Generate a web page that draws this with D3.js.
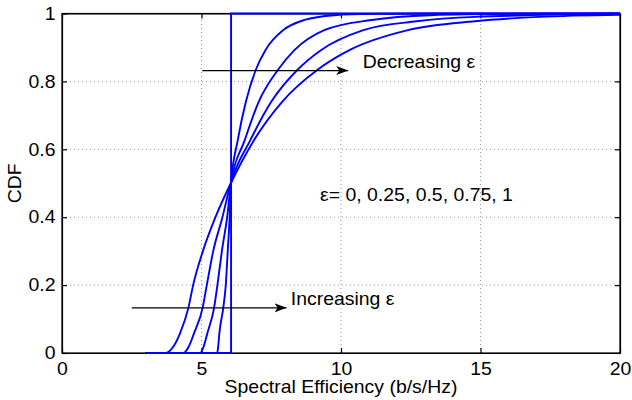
<!DOCTYPE html>
<html>
<head>
<meta charset="utf-8">
<script src="https://cdn.jsdelivr.net/npm/d3@7"></script>
<style>
body { margin: 0; background: #fff; }
text { font-family: "Liberation Sans", Arial, Helvetica, sans-serif; fill: #000; }
</style>
</head>
<body>
<script>
var width = 632, height = 400
var margin = {left: 62, top: 13.5, right: 12, bottom: 47}
var fontSize = 18, stretch = 1.08

// tick values
var xTicks = [0, 5, 10, 15, 20]
var yTicks = [0, 0.2, 0.4, 0.6, 0.8, 1]

// CDF curves, [spectral efficiency, cdf]
var epsilons = [0, 0.25, 0.5, 0.75, 1]
var cdfEps0 = [[3, 0], [6.06, 0], [6.06, 1], [20, 1]]
var cdfEps025 = [[3, 0], [5.56, 0], [5.6, 0.02], [5.64, 0.058], [5.78, 0.133], [5.87, 0.2], [5.94, 0.3], [6.01, 0.4], [6.06, 0.5],
    [6.3, 0.627], [6.59, 0.74], [6.95, 0.835], [7.29, 0.892], [7.93, 0.951], [8.69, 0.981], [9.76, 0.995], [11.05, 0.999], [13, 1], [20, 1]]
var cdfEps05 = [[3, 0], [4.95, 0], [5.08, 0.02], [5.21, 0.058], [5.45, 0.133], [5.57, 0.2], [5.73, 0.3], [5.92, 0.4], [6.06, 0.5],
    [6.55, 0.627], [7.05, 0.74], [7.75, 0.835], [8.33, 0.892], [9.4, 0.951], [11.1, 0.981], [13.2, 0.995], [16, 0.999], [20, 1]]
var cdfEps075 = [[3, 0], [4.34, 0], [4.55, 0.02], [4.73, 0.058], [5.04, 0.133], [5.19, 0.2], [5.42, 0.3], [5.75, 0.4], [6.05, 0.5],
    [6.75, 0.627], [7.5, 0.74], [8.45, 0.835], [9.28, 0.892], [10.8, 0.951], [12.7, 0.977], [14.8, 0.99], [20, 0.999]]
var cdfEps1 = [[3, 0], [3.7, 0], [4.0, 0.02], [4.23, 0.058], [4.53, 0.133], [4.7, 0.2], [5.05, 0.3], [5.5, 0.4], [6.05, 0.5],
    [6.88, 0.627], [7.89, 0.74], [9.17, 0.835], [10.3, 0.892], [12.4, 0.951], [14.8, 0.977], [17.1, 0.99], [20, 0.996]]
var curves = [cdfEps0, cdfEps025, cdfEps05, cdfEps075, cdfEps1]

// annotations (data units)
var arrows = [
    {from: [5.03, 0.832], to: [10.26, 0.832]},
    {from: [2.5, 0.133], to: [8.05, 0.133]}
]
var labels = [
    {x: 10.78, y: 0.839, text: "Decreasing ε"},
    {x: 8.2, y: 0.141, text: "Increasing ε"},
    {x: 9.25, y: 0.449, text: "ε= 0, 0.25, 0.5, 0.75, 1"}
]

var svg = d3.select("body").append("svg")
    .attr("width", width).attr("height", height)

var xScale = d3.scaleLinear().domain([0, 20]).range([margin.left, width - margin.right])
var yScale = d3.scaleLinear().domain([0, 1]).range([height - margin.bottom, margin.top])
var x0 = xScale(0), x1 = xScale(20), y0 = yScale(0), y1 = yScale(1)

// grid
svg.append("g").selectAll("line").data(xTicks.slice(1, -1))
    .enter().append("line")
    .attr("x1", d => xScale(d)).attr("x2", d => xScale(d))
    .attr("y1", y0).attr("y2", y1)
    .attr("stroke", "#999").attr("stroke-width", 1).attr("stroke-dasharray", "1,3")
svg.append("g").selectAll("line").data(yTicks.slice(1, -1))
    .enter().append("line")
    .attr("x1", x0).attr("x2", x1)
    .attr("y1", d => yScale(d)).attr("y2", d => yScale(d))
    .attr("stroke", "#999").attr("stroke-width", 1).attr("stroke-dasharray", "1,3")

// axes, ticks inside on all four sides
var xAxis = d3.axisBottom(xScale).tickValues(xTicks).tickSizeInner(-5).tickSizeOuter(0).tickPadding(9)
var yAxis = d3.axisLeft(yScale).tickValues(yTicks).tickSizeInner(-5).tickSizeOuter(0).tickPadding(6)
    .tickFormat(d3.format("~g"))
var gx = svg.append("g").attr("transform", "translate(0," + y0 + ")").call(xAxis)
var gy = svg.append("g").attr("transform", "translate(" + x0 + ",0)").call(yAxis)
svg.append("g").attr("transform", "translate(0," + y1 + ")")
    .call(d3.axisTop(xScale).tickValues(xTicks).tickSizeInner(-5).tickSizeOuter(0).tickFormat(""))
svg.append("g").attr("transform", "translate(" + x1 + ",0)")
    .call(d3.axisRight(yScale).tickValues(yTicks).tickSizeInner(-5).tickSizeOuter(0).tickFormat(""))
svg.selectAll(".domain, .tick line").attr("stroke", "#000").attr("stroke-width", 1.2)
svg.selectAll(".tick text")
    .attr("font-size", fontSize).attr("font-family", "Liberation Sans, Arial, sans-serif")
    .attr("transform", "scale(" + stretch + ",1)")
svg.append("rect").attr("x", x0).attr("y", y1).attr("width", x1 - x0).attr("height", y0 - y1)
    .attr("fill", "none").attr("stroke", "#000").attr("stroke-width", 1.2)

// axis titles
svg.append("text").attr("transform", "translate(" + (x0 + x1) / 2 + ",393) scale(" + stretch + ",1)")
    .attr("text-anchor", "middle").attr("font-size", fontSize)
    .text("Spectral Efficiency (b/s/Hz)")
svg.append("text").attr("transform", "translate(21," + yScale(0.5) + ") rotate(-90) scale(" + stretch + ",1)")
    .attr("text-anchor", "middle").attr("font-size", fontSize)
    .text("CDF")

// curves
var line = d3.line().x(d => xScale(d[0])).y(d => yScale(d[1])).curve(d3.curveMonotoneX)
var stepLine = d3.line().x(d => xScale(d[0])).y(d => yScale(d[1]))
svg.append("g").selectAll("path").data(curves)
    .enter().append("path")
    .attr("d", (d, i) => epsilons[i] == 0 ? stepLine(d) : line(d))
    .attr("fill", "none").attr("stroke", "#0000ff").attr("stroke-width", 1.9)

// arrows
svg.append("defs").append("marker")
    .attr("id", "head").attr("markerUnits", "userSpaceOnUse")
    .attr("markerWidth", 14).attr("markerHeight", 12)
    .attr("refX", 12).attr("refY", 6).attr("orient", "auto")
    .append("path").attr("d", "M0,1.5 L12,6 L0,10.5 L3,6 Z").attr("fill", "#000")
svg.append("g").selectAll("line").data(arrows)
    .enter().append("line")
    .attr("x1", d => xScale(d.from[0])).attr("y1", d => yScale(d.from[1]))
    .attr("x2", d => xScale(d.to[0])).attr("y2", d => yScale(d.to[1]))
    .attr("stroke", "#000").attr("stroke-width", 1.2)
    .attr("marker-end", "url(#head)")

svg.append("g").selectAll("text").data(labels)
    .enter().append("text")
    .attr("transform", d => "translate(" + xScale(d.x) + "," + yScale(d.y) + ") scale(" + stretch + ",1)")
    .attr("font-size", fontSize)
    .text(d => d.text)
</script>
</body>
</html>
